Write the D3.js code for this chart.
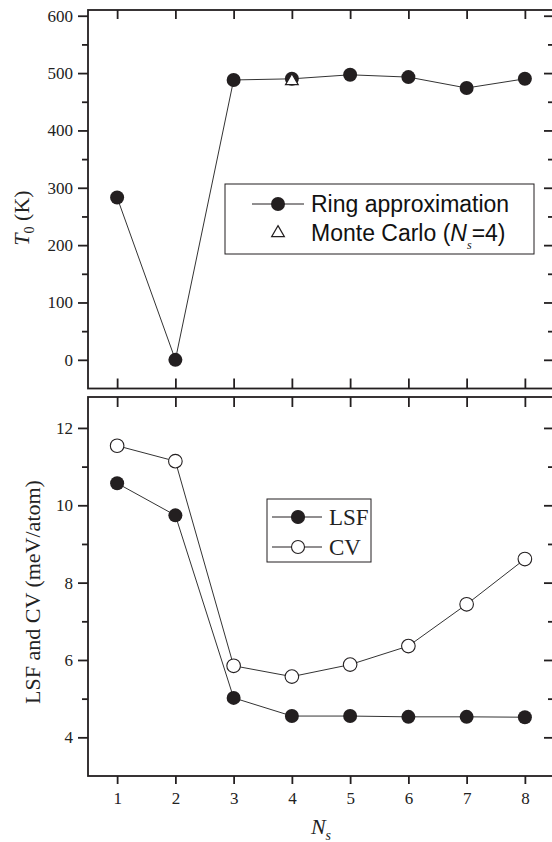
<!DOCTYPE html>
<html>
<head>
<meta charset="utf-8">
<script src="https://cdn.jsdelivr.net/npm/d3@7"></script>
<style>
  html, body { margin: 0; padding: 0; background: #fff; }
  svg { display: block; }
  .tick text { font-family: "Liberation Serif", "Times New Roman", serif; font-size: 17px; fill: #222; }
</style>
</head>
<body>
<svg id="chart" width="552" height="842"></svg>
<script>
// Number of shells N_s
const shells = [1, 2, 3, 4, 5, 6, 7, 8];
// Ordering temperature T0 (K), ring approximation
const ringT0 = [283, 0, 488, 490, 497, 493, 474, 490];
// Monte Carlo reference point
const mcShell = [4];
const mcT0 = [488];
// Fitting errors (meV/atom)
const lsfErr = [10.57, 9.74, 5.02, 4.55, 4.55, 4.53, 4.53, 4.52];
const cvErr = [11.54, 11.14, 5.85, 5.57, 5.88, 6.36, 7.44, 8.61];
// Tick values
const topMajor = [0, 100, 200, 300, 400, 500, 600];
const topMinor = [50, 150, 250, 350, 450, 550];
const botMajor = [4, 6, 8, 10, 12];
const botMinor = [5, 7, 9, 11];

const svg = d3.select("#chart");
const ink = "#231f20";
const serif = '"Liberation Serif", "Times New Roman", serif';
const sans = '"Liberation Sans", Arial, sans-serif';

const L = 88, R = 554;
const x = d3.scaleLinear().domain([0.5, 8.5]).range([L, R]);

const topP = { t: 10, b: 388.5 };
const botP = { t: 397, b: 776 };
const yTop = d3.scaleLinear().domain([-50, 610]).range([topP.b, topP.t]);
const yBot = d3.scaleLinear().domain([3, 12.8]).range([botP.b, botP.t]);

function frame(p) {
  svg.append("rect")
    .attr("x", L).attr("y", p.t).attr("width", R - L).attr("height", p.b - p.t)
    .attr("fill", "none").attr("stroke", ink).attr("stroke-width", 1.8);
}

function styleAxis(g) {
  g.select(".domain").remove();
  g.selectAll(".tick line").attr("stroke", ink).attr("stroke-width", 1.8);
}

function yAxes(y, major, minor, fmt) {
  // left: outward ticks with labels
  svg.append("g").attr("transform", `translate(${L},0)`)
    .call(d3.axisLeft(y).tickValues(major).tickSize(10).tickPadding(5).tickFormat(fmt))
    .call(styleAxis);
  svg.append("g").attr("transform", `translate(${L},0)`)
    .call(d3.axisLeft(y).tickValues(minor).tickSize(6).tickFormat(""))
    .call(styleAxis);
  // right: inward ticks
  svg.append("g").attr("transform", `translate(${R},0)`)
    .call(d3.axisRight(y).tickValues(major).tickSize(-10).tickFormat(""))
    .call(styleAxis);
  svg.append("g").attr("transform", `translate(${R},0)`)
    .call(d3.axisRight(y).tickValues(minor).tickSize(-6).tickFormat(""))
    .call(styleAxis);
}

// ---------- top panel ----------
frame(topP);
yAxes(yTop, topMajor, topMinor, d3.format("d"));
svg.append("g").attr("transform", `translate(0,${topP.t})`)
  .call(d3.axisTop(x).tickValues(shells).tickSize(-9).tickFormat(""))
  .call(styleAxis);
svg.append("g").attr("transform", `translate(0,${topP.b})`)
  .call(d3.axisBottom(x).tickValues(shells).tickSize(-10).tickFormat(""))
  .call(styleAxis);

const ringData = shells.map((n, i) => ({ n, v: ringT0[i] }));
svg.append("path").datum(ringData)
  .attr("fill", "none").attr("stroke", "#333").attr("stroke-width", 1)
  .attr("d", d3.line().x(d => x(d.n)).y(d => yTop(d.v)));
svg.append("g").selectAll("circle").data(ringData).join("circle")
  .attr("cx", d => x(d.n)).attr("cy", d => yTop(d.v)).attr("r", 7)
  .attr("fill", ink);

const tri = d3.symbol().type(d3.symbolTriangle).size(70);
svg.append("g").selectAll("path").data(mcShell.map((n, i) => ({ n, v: mcT0[i] }))).join("path")
  .attr("transform", d => `translate(${x(d.n)},${yTop(d.v) + 1})`)
  .attr("d", tri).attr("fill", "#fff").attr("stroke", ink).attr("stroke-width", 1.2);

// y title
const t1 = svg.append("text")
  .attr("transform", "translate(29,218) rotate(-90)")
  .attr("text-anchor", "middle")
  .attr("font-family", serif).attr("font-size", 22).attr("fill", "#222");
t1.append("tspan").attr("font-style", "italic").text("T");
t1.append("tspan").attr("font-size", 14).attr("dy", 5).text("0");
t1.append("tspan").attr("dy", -5).text(" (K)");

// legend (top)
const lg1 = svg.append("g");
lg1.append("rect").attr("x", 225).attr("y", 184).attr("width", 309).attr("height", 70)
  .attr("fill", "#fff").attr("stroke", ink).attr("stroke-width", 1);
lg1.append("line").attr("x1", 252).attr("x2", 304).attr("y1", 204).attr("y2", 204)
  .attr("stroke", ink).attr("stroke-width", 1);
lg1.append("circle").attr("cx", 278).attr("cy", 204).attr("r", 7).attr("fill", ink);
lg1.append("path").attr("transform", "translate(278,233)").attr("d", tri)
  .attr("fill", "#fff").attr("stroke", ink).attr("stroke-width", 1.2);
lg1.append("text").attr("x", 311).attr("y", 212)
  .attr("font-family", sans).attr("font-size", 23).attr("fill", "#111")
  .text("Ring approximation");
const mcT = lg1.append("text").attr("x", 311).attr("y", 241)
  .attr("font-family", sans).attr("font-size", 23).attr("fill", "#111");
mcT.append("tspan").text("Monte Carlo (");
mcT.append("tspan").attr("font-style", "italic").text("N");
mcT.append("tspan").attr("font-family", serif).attr("font-style", "italic")
  .attr("font-size", 12).attr("dy", 8).text("s");
mcT.append("tspan").attr("dy", -8).text("=4)");

// ---------- bottom panel ----------
frame(botP);
yAxes(yBot, botMajor, botMinor, d3.format("d"));
svg.append("g").attr("transform", `translate(0,${botP.t})`)
  .call(d3.axisTop(x).tickValues(shells).tickSize(-10).tickFormat(""))
  .call(styleAxis);
svg.append("g").attr("transform", `translate(0,${botP.b})`)
  .call(d3.axisBottom(x).tickValues(shells).tickSize(8).tickPadding(8).tickFormat(d3.format("d")))
  .call(styleAxis);

const lsfData = shells.map((n, i) => ({ n, v: lsfErr[i] }));
const cvData = shells.map((n, i) => ({ n, v: cvErr[i] }));
const lineB = d3.line().x(d => x(d.n)).y(d => yBot(d.v));
[cvData, lsfData].forEach(ds => {
  svg.append("path").datum(ds)
    .attr("fill", "none").attr("stroke", "#333").attr("stroke-width", 1)
    .attr("d", lineB);
});
svg.append("g").selectAll("circle").data(cvData).join("circle")
  .attr("cx", d => x(d.n)).attr("cy", d => yBot(d.v)).attr("r", 6.8)
  .attr("fill", "#fff").attr("stroke", ink).attr("stroke-width", 1.1);
svg.append("g").selectAll("circle").data(lsfData).join("circle")
  .attr("cx", d => x(d.n)).attr("cy", d => yBot(d.v)).attr("r", 7)
  .attr("fill", ink);

// y title
svg.append("text")
  .attr("transform", "translate(40,592) rotate(-90)")
  .attr("text-anchor", "middle")
  .attr("font-family", serif).attr("font-size", 22).attr("fill", "#222")
  .text("LSF and CV (meV/atom)");

// x title
const xt = svg.append("text").attr("x", 321).attr("y", 834)
  .attr("text-anchor", "middle")
  .attr("font-family", serif).attr("font-size", 22).attr("fill", "#222");
xt.append("tspan").attr("font-style", "italic").text("N");
xt.append("tspan").attr("font-style", "italic").attr("font-size", 14).attr("dy", 6).text("s");

// legend (bottom)
const lg2 = svg.append("g");
lg2.append("rect").attr("x", 267).attr("y", 499).attr("width", 104).attr("height", 63)
  .attr("fill", "#fff").attr("stroke", ink).attr("stroke-width", 1);
[[517, true, "LSF"], [547, false, "CV"]].forEach(([yy, filled, label]) => {
  lg2.append("line").attr("x1", 272).attr("x2", 322).attr("y1", yy).attr("y2", yy)
    .attr("stroke", ink).attr("stroke-width", 1);
  lg2.append("circle").attr("cx", 298).attr("cy", yy).attr("r", 6.5)
    .attr("fill", filled ? ink : "#fff").attr("stroke", ink).attr("stroke-width", 1.1);
  lg2.append("text").attr("x", 329).attr("y", yy + 8)
    .attr("font-family", serif).attr("font-size", 23).attr("fill", "#222").text(label);
});
</script>
</body>
</html>
